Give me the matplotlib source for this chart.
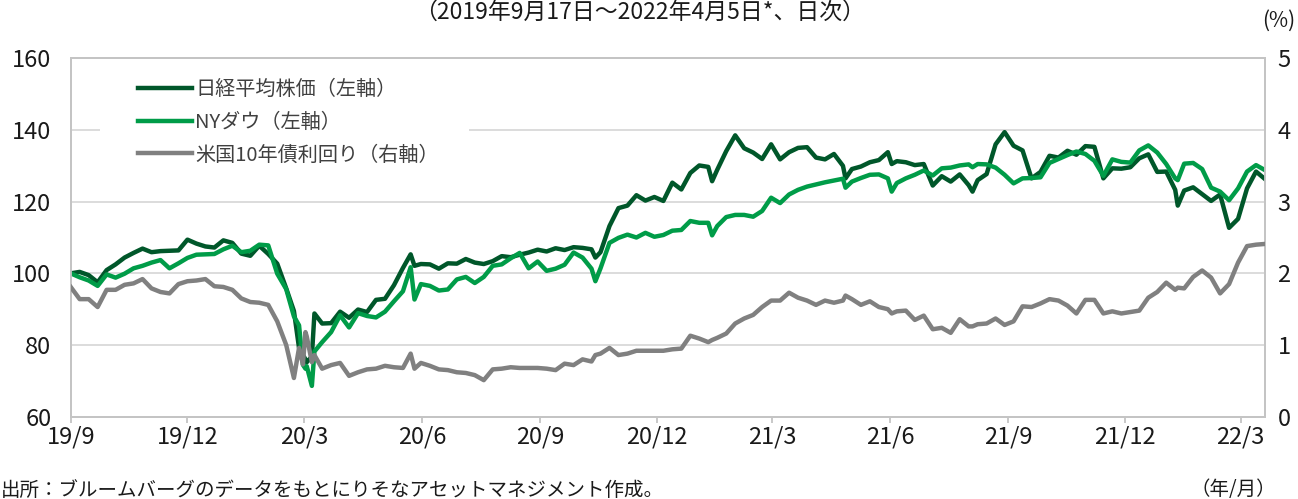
import numpy as np
import pandas as pd
import matplotlib
matplotlib.use('Agg')
import matplotlib.pyplot as plt
from matplotlib.patches import Rectangle

# index (2019/9/17 = 100) for the stocks, % for the US 10y yield
dates = ['2019-09-17', '2019-09-24', '2019-10-01', '2019-10-08', '2019-10-15', '2019-10-22',
         '2019-10-29', '2019-11-05', '2019-11-12', '2019-11-19', '2019-11-26', '2019-12-03',
         '2019-12-10', '2019-12-17', '2019-12-24', '2019-12-31', '2020-01-07', '2020-01-14',
         '2020-01-21', '2020-01-28', '2020-02-04', '2020-02-11', '2020-02-18', '2020-02-25',
         '2020-03-03', '2020-03-09', '2020-03-13', '2020-03-16', '2020-03-18', '2020-03-19',
         '2020-03-23', '2020-03-25', '2020-03-31', '2020-04-07', '2020-04-14', '2020-04-21',
         '2020-04-28', '2020-05-05', '2020-05-12', '2020-05-19', '2020-05-26', '2020-06-02',
         '2020-06-08', '2020-06-11', '2020-06-16', '2020-06-23', '2020-06-30', '2020-07-07',
         '2020-07-14', '2020-07-21', '2020-07-28', '2020-08-04', '2020-08-11', '2020-08-18',
         '2020-08-25', '2020-09-01', '2020-09-08', '2020-09-15', '2020-09-22', '2020-09-29',
         '2020-10-06', '2020-10-13', '2020-10-20', '2020-10-27', '2020-10-30', '2020-11-03',
         '2020-11-10', '2020-11-17', '2020-11-24', '2020-12-01', '2020-12-08', '2020-12-15',
         '2020-12-22', '2020-12-29', '2021-01-05', '2021-01-12', '2021-01-19', '2021-01-26',
         '2021-01-29', '2021-02-02', '2021-02-09', '2021-02-16', '2021-02-23', '2021-03-02',
         '2021-03-09', '2021-03-16', '2021-03-23', '2021-03-30', '2021-04-06', '2021-04-13',
         '2021-04-20', '2021-04-27', '2021-05-04', '2021-05-11', '2021-05-13', '2021-05-18',
         '2021-05-25', '2021-06-01', '2021-06-08', '2021-06-15', '2021-06-18', '2021-06-22',
         '2021-06-29', '2021-07-06', '2021-07-13', '2021-07-20', '2021-07-27', '2021-08-03',
         '2021-08-10', '2021-08-17', '2021-08-20', '2021-08-24', '2021-08-31', '2021-09-07',
         '2021-09-14', '2021-09-21', '2021-09-28', '2021-10-05', '2021-10-12', '2021-10-19',
         '2021-10-26', '2021-11-02', '2021-11-09', '2021-11-16', '2021-11-23', '2021-11-30',
         '2021-12-07', '2021-12-14', '2021-12-21', '2021-12-28', '2022-01-04', '2022-01-11',
         '2022-01-18', '2022-01-25', '2022-01-27', '2022-02-01', '2022-02-08', '2022-02-15',
         '2022-02-22', '2022-03-01', '2022-03-08', '2022-03-15', '2022-03-22', '2022-03-29',
         '2022-04-05']

nikkei = [100.0, 100.4, 99.5, 97.5, 100.9, 102.5,
          104.4, 105.7, 106.9, 105.9, 106.2, 106.3,
          106.4, 109.4, 108.3, 107.5, 107.2, 109.2,
          108.5, 105.5, 104.9, 107.7, 105.4, 102.7,
          95.8, 89.5, 79.2, 77.3, 76.0, 75.2,
          76.8, 88.8, 86.0, 86.1, 89.3, 87.6,
          89.9, 89.2, 92.6, 92.9, 96.7, 101.5,
          105.3, 102.1, 102.6, 102.5, 101.3, 102.8,
          102.7, 104.0, 103.0, 102.6, 103.4, 104.8,
          104.5, 105.2, 105.8, 106.6, 106.1, 107.0,
          106.5, 107.3, 107.1, 106.7, 104.4, 105.9,
          113.2, 118.2, 118.9, 121.8, 120.3, 121.3,
          120.2, 125.3, 123.4, 128.0, 130.1, 129.7,
          125.7, 128.9, 134.1, 138.5, 134.9, 133.7,
          131.9, 136.0, 131.8, 133.8, 135.0, 135.2,
          132.3, 131.8, 133.3, 130.0, 126.5, 129.1,
          129.8, 131.0, 131.6, 133.8, 130.5, 131.3,
          131.0, 130.2, 130.5, 124.5, 127.1, 125.6,
          127.6, 124.6, 122.8, 126.0, 127.7, 136.0,
          139.4, 135.6, 134.3, 126.5, 128.3, 132.8,
          132.3, 134.2, 133.1, 135.5, 135.3, 126.5,
          129.3, 129.2, 129.6, 132.1, 133.2, 128.3,
          128.4, 123.3, 118.9, 123.1, 124.0, 122.1,
          120.2, 122.0, 112.7, 115.2, 123.7, 128.4,
          126.3]

dow = [100.0, 98.9, 98.0, 96.5, 99.7, 98.8,
       99.9, 101.4, 102.1, 103.0, 103.7, 101.4,
       102.8, 104.3, 105.2, 105.3, 105.4, 106.7,
       107.7, 105.9, 106.3, 108.0, 107.8, 99.9,
       95.6, 88.0, 85.5, 74.5, 73.4, 74.1,
       68.6, 78.2, 80.8, 83.6, 88.3, 84.9,
       88.9, 88.1, 87.7, 89.3, 92.2, 95.0,
       101.7, 92.7, 97.0, 96.5, 95.2, 95.5,
       98.3, 99.0, 97.3, 99.0, 102.1, 102.5,
       104.2, 105.7, 101.4, 103.3, 100.7, 101.3,
       102.4, 105.8, 104.4, 101.3, 97.8, 101.4,
       108.5, 109.9, 110.8, 110.0, 111.3, 110.2,
       110.7, 111.9, 112.1, 114.6, 114.1, 114.1,
       110.6, 113.2, 115.7, 116.3, 116.3, 115.8,
       117.4, 121.1, 119.6, 122.0, 123.3, 124.2,
       124.8, 125.4, 125.9, 126.4, 123.9, 125.6,
       126.6, 127.5, 127.6, 126.5, 122.8, 125.2,
       126.5, 127.5, 128.7, 127.3, 129.3, 129.5,
       130.1, 130.4, 129.6, 130.5, 130.4, 129.5,
       127.5, 125.1, 126.5, 126.6, 126.8, 130.8,
       131.9, 133.0, 134.0, 133.3, 131.4, 127.2,
       131.8, 131.1, 130.9, 134.3, 135.7, 133.7,
       130.5, 126.5, 126.0, 130.6, 130.8, 129.1,
       123.9, 122.8, 120.4, 123.7, 128.4, 130.2,
       128.8]

ust10y = [1.81, 1.64, 1.64, 1.53, 1.77, 1.77,
          1.84, 1.86, 1.92, 1.79, 1.74, 1.72,
          1.85, 1.89, 1.90, 1.92, 1.82, 1.81,
          1.77, 1.65, 1.60, 1.59, 1.56, 1.33,
          1.00, 0.54, 0.96, 0.73, 1.18, 1.12,
          0.76, 0.86, 0.67, 0.72, 0.75, 0.57,
          0.62, 0.66, 0.67, 0.71, 0.69, 0.68,
          0.88, 0.67, 0.75, 0.71, 0.66, 0.65,
          0.62, 0.61, 0.58, 0.51, 0.66, 0.67,
          0.69, 0.68, 0.68, 0.68, 0.67, 0.65,
          0.74, 0.72, 0.80, 0.77, 0.86, 0.88,
          0.96, 0.86, 0.88, 0.92, 0.92, 0.92,
          0.92, 0.94, 0.95, 1.13, 1.09, 1.04,
          1.07, 1.10, 1.16, 1.30, 1.37, 1.42,
          1.53, 1.62, 1.62, 1.73, 1.66, 1.62,
          1.56, 1.62, 1.59, 1.62, 1.69, 1.64,
          1.56, 1.61, 1.53, 1.50, 1.44, 1.47,
          1.48, 1.35, 1.41, 1.22, 1.24, 1.17,
          1.36, 1.26, 1.26, 1.29, 1.30, 1.37,
          1.28, 1.33, 1.54, 1.53, 1.58, 1.64,
          1.62, 1.55, 1.44, 1.63, 1.63, 1.44,
          1.47, 1.44, 1.46, 1.48, 1.66, 1.74,
          1.87, 1.77, 1.80, 1.79, 1.95, 2.04,
          1.94, 1.72, 1.85, 2.15, 2.38, 2.40,
          2.41]

tick_dates = ['2019-09-17', '2019-12-17', '2020-03-17', '2020-06-17', '2020-09-17', '2020-12-17',
              '2021-03-17', '2021-06-17', '2021-09-17', '2021-12-17', '2022-03-17']
tick_labels = ['19/9', '19/12', '20/3', '20/6', '20/9', '20/12',
               '21/3', '21/6', '21/9', '21/12', '22/3']

series_names = ['日経平均株価（左軸）', 'NYダウ（左軸）', '米国10年債利回り（右軸）']

plt.rcParams['font.family'] = ['Noto Sans CJK JP', 'DejaVu Sans']

grid_col = '#D9D9D9'
text_col = '#1a1a1a'

fig = plt.figure(figsize=(12.98, 4.99), dpi=100)
ax = fig.add_axes([70.7 / 1298, 82.3 / 499, 1194.3 / 1298, 358.4 / 499])
ax2 = ax.twinx()

d = pd.to_datetime(dates)
l1, = ax.plot(d, nikkei, color='#00572A', lw=3.2, solid_joinstyle='round', zorder=3)
l2, = ax.plot(d, dow, color='#009C48', lw=3.2, solid_joinstyle='round', zorder=4)
l3, = ax2.plot(d, ust10y, color='#808080', lw=3.2, solid_joinstyle='round', zorder=3)

ax.set_xlim(pd.Timestamp('2019-09-17'), pd.Timestamp('2022-04-05'))
ax.set_ylim(60, 160)
ax2.set_ylim(0, 5)
ax.set_yticks([60, 80, 100, 120, 140, 160])
ax2.set_yticks([0, 1, 2, 3, 4, 5])
ax.set_xticks(pd.to_datetime(tick_dates))
ax.set_xticklabels(tick_labels)

ax.grid(axis='y', color=grid_col, lw=1.3)
ax.set_axisbelow(True)
for a in (ax, ax2):
    for sp in a.spines.values():
        sp.set_color('#C4C4C4')
        sp.set_linewidth(1.3)

ax.tick_params(axis='y', length=0, pad=14, labelsize=17, labelcolor=text_col)
ax.tick_params(axis='x', length=4, width=1.3, color='#C4C4C4', pad=2, labelsize=17, labelcolor=text_col)
ax2.tick_params(axis='y', length=0, pad=9, labelsize=17, labelcolor=text_col)

# white box behind the legend hides the 140 gridline
ax.add_patch(Rectangle((29.3 / 1194.3, 0.70), 368.7 / 1194.3, 0.27, transform=ax.transAxes,
                       facecolor='white', edgecolor='none', zorder=1.5))
ax2.legend([l1, l2, l3], series_names, loc='upper left', bbox_to_anchor=(0.0566, 0.942),
           frameon=False, fontsize=14.5, handlelength=2.65, handletextpad=0.17,
           labelspacing=0.58, borderpad=0, borderaxespad=0, labelcolor='#404040')

fig.text(640 / 1298, 1 - 12 / 499, '（2019年9月17日～2022年4月5日*、日次）', ha='center', va='center',
         fontsize=16.5, color=text_col)
fig.text(1295 / 1298, 1 - 21 / 499, '(%)', ha='right', va='center', fontsize=15, color=text_col)
fig.text(0.5 / 1298, 1 - 490 / 499, '出所：ブルームバーグのデータをもとにりそなアセットマネジメント作成。',
         ha='left', va='center', fontsize=14.0, color=text_col)
fig.text(1276 / 1298, 1 - 490 / 499, '（年/月）', ha='right', va='center', fontsize=14, color=text_col)

fig.savefig('out.png', dpi=100)
